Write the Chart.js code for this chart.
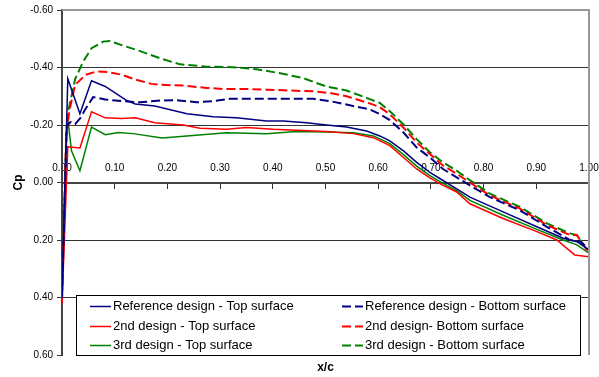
<!DOCTYPE html>
<html>
<head>
<meta charset="utf-8">
<script src="https://cdn.jsdelivr.net/npm/chart.js@4/dist/chart.umd.min.js"></script>
<style>
  html, body { margin: 0; padding: 0; background: #fff; }
  #wrap { width: 599px; height: 377px; }
</style>
</head>
<body>
<div id="wrap"><canvas id="cp-chart"></canvas></div>
<script>
// Cp distribution along the chord

const seriesLabels = [
  'Reference design - Top surface',
  'Reference design - Bottom surface',
  '2nd design - Top surface',
  '2nd design- Bottom surface',
  '3rd design - Top surface',
  '3rd design - Bottom surface',
];

// Reference design
const refTopX = [0, 0.011, 0.034, 0.056, 0.082, 0.123, 0.139, 0.176, 0.237, 0.287, 0.331, 0.388, 0.42, 0.464, 0.502, 0.54, 0.578, 0.603, 0.622, 0.648, 0.673, 0.698, 0.723, 0.749, 0.774, 0.837, 0.901, 0.951, 0.977, 1.0];
const refTopY = [0.40, -0.361, -0.239, -0.354, -0.334, -0.285, -0.273, -0.266, -0.239, -0.229, -0.225, -0.214, -0.214, -0.208, -0.200, -0.193, -0.179, -0.162, -0.145, -0.110, -0.070, -0.035, -0.007, 0.022, 0.051, 0.102, 0.154, 0.194, 0.206, 0.234];
const refBotX = [0, 0.009, 0.016, 0.025, 0.035, 0.044, 0.059, 0.082, 0.113, 0.148, 0.186, 0.218, 0.256, 0.287, 0.319, 0.369, 0.433, 0.477, 0.509, 0.54, 0.584, 0.603, 0.622, 0.648, 0.673, 0.698, 0.723, 0.749, 0.774, 0.812, 0.869, 0.92, 0.964, 0.983, 1.0];
const refBotY = [0.40, -0.197, -0.21, -0.203, -0.225, -0.254, -0.297, -0.289, -0.283, -0.279, -0.285, -0.286, -0.279, -0.283, -0.291, -0.291, -0.291, -0.291, -0.283, -0.271, -0.254, -0.238, -0.217, -0.174, -0.122, -0.087, -0.047, -0.018, 0.010, 0.051, 0.097, 0.154, 0.200, 0.206, 0.229];

// 2nd design
const d2TopX = [0, 0.011, 0.034, 0.056, 0.082, 0.113, 0.139, 0.176, 0.23, 0.262, 0.312, 0.35, 0.401, 0.445, 0.502, 0.553, 0.591, 0.622, 0.648, 0.673, 0.698, 0.723, 0.749, 0.774, 0.837, 0.901, 0.939, 0.958, 0.973, 1.0];
const d2TopY = [0.42, -0.124, -0.120, -0.246, -0.225, -0.223, -0.225, -0.208, -0.200, -0.189, -0.185, -0.191, -0.185, -0.182, -0.177, -0.170, -0.156, -0.128, -0.087, -0.047, -0.016, 0.010, 0.033, 0.074, 0.125, 0.171, 0.200, 0.229, 0.252, 0.258];
const d2BotX = [0, 0.008, 0.014, 0.025, 0.045, 0.065, 0.088, 0.113, 0.139, 0.17, 0.186, 0.23, 0.275, 0.306, 0.35, 0.388, 0.433, 0.477, 0.509, 0.54, 0.584, 0.603, 0.622, 0.648, 0.673, 0.698, 0.723, 0.749, 0.774, 0.812, 0.869, 0.92, 0.964, 0.977, 1.0];
const d2BotY = [0.42, -0.16, -0.25, -0.34, -0.375, -0.386, -0.384, -0.375, -0.358, -0.343, -0.340, -0.337, -0.329, -0.325, -0.325, -0.323, -0.320, -0.317, -0.311, -0.300, -0.275, -0.262, -0.237, -0.191, -0.139, -0.099, -0.059, -0.030, 0.000, 0.045, 0.091, 0.148, 0.183, 0.183, 0.246];

// 3rd design
const d3TopX = [0, 0.010, 0.018, 0.034, 0.056, 0.082, 0.107, 0.135, 0.19, 0.237, 0.312, 0.388, 0.445, 0.502, 0.553, 0.591, 0.622, 0.648, 0.673, 0.698, 0.723, 0.749, 0.774, 0.837, 0.901, 0.951, 0.977, 1.0];
const d3TopY = [0.38, -0.237, -0.11, -0.041, -0.193, -0.166, -0.174, -0.170, -0.155, -0.162, -0.173, -0.170, -0.177, -0.176, -0.173, -0.162, -0.135, -0.097, -0.057, -0.024, 0.003, 0.028, 0.062, 0.114, 0.163, 0.200, 0.217, 0.246];
const d3BotX = [0, 0.008, 0.012, 0.025, 0.04, 0.056, 0.078, 0.091, 0.113, 0.145, 0.186, 0.224, 0.275, 0.325, 0.369, 0.414, 0.458, 0.483, 0.502, 0.54, 0.584, 0.603, 0.622, 0.648, 0.673, 0.698, 0.723, 0.749, 0.774, 0.812, 0.869, 0.92, 0.964, 0.977, 0.992, 1.0];
const d3BotY = [0.38, -0.16, -0.25, -0.36, -0.42, -0.467, -0.490, -0.492, -0.478, -0.459, -0.432, -0.411, -0.403, -0.401, -0.394, -0.380, -0.363, -0.346, -0.334, -0.320, -0.290, -0.277, -0.248, -0.202, -0.151, -0.105, -0.070, -0.041, -0.008, 0.039, 0.085, 0.142, 0.177, 0.183, 0.223, 0.240];

const FONT = '"Liberation Sans", Arial, sans-serif';
const near = (a, b) => Math.abs(a - b) < 1e-6;

function toPoints(xs, ys) {
  return xs.map((x, i) => ({ x: x, y: ys[i] }));
}

function makeSeries(label, xs, ys, color, dashed) {
  return {
    label: label,
    data: toPoints(xs, ys),
    borderColor: color,
    borderWidth: dashed ? 2 : 1.5,
    borderDash: dashed ? [9, 4] : [],
    pointRadius: 0,
    tension: 0,
    fill: false,
    xAxisID: 'x',
    yAxisID: 'y',
  };
}

// grey frame on top/right of the plot + legend box inside the plot
const plotExtras = {
  id: 'plotExtras',
  afterDatasetsDraw(chart) {
    const { ctx, chartArea: a } = chart;
    ctx.save();
    ctx.strokeStyle = '#999';
    ctx.lineWidth = 2;
    ctx.beginPath();
    ctx.moveTo(a.left, a.top);
    ctx.lineTo(a.right, a.top);
    ctx.lineTo(a.right, a.bottom);
    ctx.stroke();

    const left = a.left + 14, right = a.right - 9;
    const bottom = a.bottom, top = a.bottom - 60;
    ctx.fillStyle = '#fff';
    ctx.fillRect(left, top, right - left, bottom - top);
    ctx.strokeStyle = '#000';
    ctx.lineWidth = 1;
    ctx.strokeRect(Math.round(left) + 0.5, Math.round(top) + 0.5, right - left, bottom - top);
    ctx.font = '13px ' + FONT;
    ctx.textBaseline = 'middle';
    chart.data.datasets.forEach((ds, i) => {
      const col = i % 2, row = Math.floor(i / 2);
      const x0 = left + (col ? 266 : 14);
      const y = Math.round(top + 11 + row * 19.7) + 0.5;
      ctx.strokeStyle = ds.borderColor;
      ctx.lineWidth = ds.borderWidth;
      ctx.setLineDash(ds.borderDash);
      ctx.beginPath();
      ctx.moveTo(x0, y);
      ctx.lineTo(x0 + 21, y);
      ctx.stroke();
      ctx.setLineDash([]);
      ctx.fillStyle = '#000';
      ctx.fillText(ds.label, x0 + 23, y);
    });
    ctx.restore();
  },
};

const ctx = document.getElementById('cp-chart').getContext('2d');

new Chart(ctx, {
  type: 'line',
  data: {
    datasets: [
      makeSeries(seriesLabels[0], refTopX, refTopY, '#000080', false),
      makeSeries(seriesLabels[1], refBotX, refBotY, '#000080', true),
      makeSeries(seriesLabels[2], d2TopX, d2TopY, '#ff0000', false),
      makeSeries(seriesLabels[3], d2BotX, d2BotY, '#ff0000', true),
      makeSeries(seriesLabels[4], d3TopX, d3TopY, '#008000', false),
      makeSeries(seriesLabels[5], d3BotX, d3BotY, '#008000', true),
    ],
  },
  options: {
    responsive: true,
    maintainAspectRatio: false,
    animation: false,
    layout: { padding: { top: 8, right: 10, bottom: 0, left: 0 } },
    plugins: {
      legend: { display: false },
      tooltip: { enabled: false },
    },
    scales: {
      x: {
        type: 'linear',
        position: { y: 0 },
        min: 0,
        max: 1,
        ticks: {
          stepSize: 0.1,
          padding: -25,
          color: '#000',
          font: { family: FONT, size: 10 },
          callback: (v) => v.toFixed(2),
        },
        grid: {
          drawOnChartArea: false,
          tickLength: 5,
          tickColor: '#333',
        },
        border: { color: '#444', width: 2 },
      },
      x2: {
        type: 'linear',
        position: 'bottom',
        min: 0,
        max: 1,
        ticks: { display: false },
        grid: { display: false },
        border: { display: false },
        title: {
          display: true,
          text: 'x/c',
          color: '#000',
          font: { family: FONT, size: 12, weight: 'bold' },
          padding: { top: 0, bottom: 2 },
        },
        afterFit: (scale) => { scale.height = 22; },
      },
      y: {
        type: 'linear',
        reverse: true,
        min: -0.6,
        max: 0.6,
        ticks: {
          stepSize: 0.2,
          padding: 4,
          color: '#000',
          font: { family: FONT, size: 10 },
          callback: (v) => (Math.abs(v) < 1e-9 ? '0.00' : v.toFixed(2)),
        },
        grid: {
          color: (c) => {
            const v = c.tick ? c.tick.value : 0;
            if (near(Math.abs(v), 0.2) || near(Math.abs(v), 0.4)) return '#333';
            return 'rgba(0,0,0,0)';
          },
          tickColor: '#333',
          tickLength: 5,
        },
        border: { color: '#444', width: 2 },
        title: {
          display: true,
          text: 'Cp',
          color: '#000',
          font: { family: FONT, size: 12, weight: 'bold' },
          padding: { top: 11, bottom: 0 },
        },
        afterFit: (scale) => { scale.width = 62; },
      },
    },
  },
  plugins: [plotExtras],
});
</script>
</body>
</html>
